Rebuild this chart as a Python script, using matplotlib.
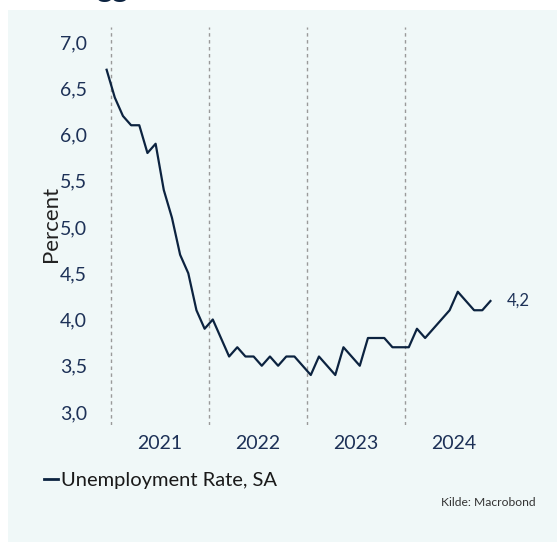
import matplotlib
matplotlib.use("Agg")
import matplotlib.pyplot as plt
from matplotlib.patches import Rectangle
from matplotlib.lines import Line2D

# Unemployment rate, monthly, Dec 2020 - Nov 2024
start_year = 2020
start_month = 12
rate = [6.7,
        6.4, 6.2, 6.1, 6.1, 5.8, 5.9, 5.4, 5.1, 4.7, 4.5, 4.1, 3.9,
        4.0, 3.8, 3.6, 3.7, 3.6, 3.6, 3.5, 3.6, 3.5, 3.6, 3.6, 3.5,
        3.4, 3.6, 3.5, 3.4, 3.7, 3.6, 3.5, 3.8, 3.8, 3.8, 3.7, 3.7,
        3.7, 3.9, 3.8, 3.9, 4.0, 4.1, 4.3, 4.2, 4.1, 4.1, 4.2]
years = [2021, 2022, 2023, 2024]
yticks = [3.0, 3.5, 4.0, 4.5, 5.0, 5.5, 6.0, 6.5, 7.0]

navy = "#0c2340"
text_navy = "#1d3157"
bg = "#f0f8f8"

# x positions at mid-month, in fractional years
x = [start_year + (start_month - 1 + i + 0.5) / 12 for i in range(len(rate))]

plt.rcParams["font.family"] = ["Lato", "DejaVu Sans"]

W, H = 557, 542
fig = plt.figure(figsize=(W / 100, H / 100), dpi=100)
fig.patch.set_facecolor("white")
fig.patches.append(Rectangle((8 / W, 0), 1 - 8 / W, (H - 10) / H,
                             transform=fig.transFigure, facecolor=bg,
                             edgecolor="none", zorder=-5))

# cut-off title fragment at the very top
fig.text(96 / W, 1 + 3 / H, "gg", fontsize=22, fontweight="bold",
         color=navy, va="baseline", ha="left")

ax = fig.add_axes([96 / W, (H - 425) / H, (545 - 96) / W, (425 - 27) / H])
ax.set_facecolor("none")
ax.set_zorder(2)

# year separators
for yr in years:
    ax.axvline(yr, color="#9a9a9a", linestyle=(0, (2.5, 2.5)), linewidth=1, zorder=1)

ax.plot(x, rate, color=navy, linewidth=1.6, zorder=3,
        label="Unemployment Rate, SA")

ax.annotate(f"{rate[-1]:.1f}".replace(".", ","), xy=(x[-1], rate[-1]),
            xytext=(12, 0), textcoords="offset points", va="center",
            ha="left", fontsize=12, color=text_navy)

ax.set_xlim(2021 - 14.7 / 98, 2021 + (545 - 110.7) / 98)
ax.set_ylim(3.0 - 13 / 92.5, 7.0 + 15 / 92.5)

ax.set_yticks(yticks)
ax.set_yticklabels([f"{v:.1f}".replace(".", ",") for v in yticks])
ax.set_xticks([yr + 0.5 for yr in years])
ax.set_xticklabels([str(yr) for yr in years])
ax.tick_params(axis="both", length=0, labelsize=14, colors=text_navy)
ax.tick_params(axis="y", pad=6.5)
ax.tick_params(axis="x", pad=7)

ax.set_ylabel("Percent", fontsize=16, color="#222222")
ax.yaxis.set_label_coords((61 - 96) / 449, (425 - 224) / 398)

for s in ax.spines.values():
    s.set_visible(False)

handle = Line2D([], [], color=navy, linewidth=2)
fig.legend([handle], ["Unemployment Rate, SA"], loc="center left",
           bbox_to_anchor=(26 / W, (H - 480) / H), frameon=False,
           handlelength=0.7, handletextpad=0.15, fontsize=14.5,
           labelcolor="#1a1a1a")

fig.text(536 / W, (H - 503) / H, "Kilde: Macrobond", fontsize=8.7,
         color="#333333", ha="right", va="center")

fig.savefig("out.png", dpi=100, facecolor=fig.get_facecolor())
